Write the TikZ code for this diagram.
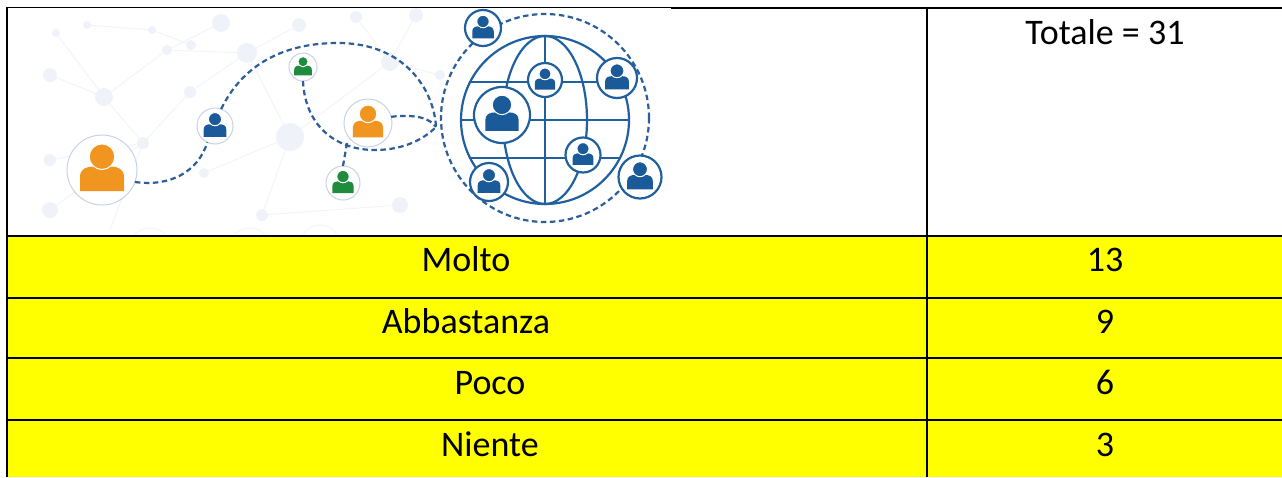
\documentclass[tikz,border=0pt]{standalone}
\usepackage{fontspec}
\setmainfont{Carlito}
\definecolor{porange}{HTML}{F0951F}
\definecolor{pblue}{HTML}{1B5A98}
\definecolor{pgreen}{HTML}{1F8B3C}
\definecolor{ringlight}{HTML}{C9D2E4}
\definecolor{dashblue}{HTML}{2C5E99}
\definecolor{globeblue}{HTML}{20609E}
\definecolor{faintfill}{HTML}{EFF3F9}
\definecolor{faintline}{HTML}{F1F4F9}
\definecolor{cellyellow}{HTML}{FFFF00}
\tikzset{
  personring/.style={circle, fill=white, inner sep=0pt, outer sep=0pt},
  ringL/.style={draw=ringlight, line width=1pt},
  ringG/.style={draw=globeblue, line width=2.2pt},
  conn/.style={draw=dashblue, line width=2.2pt, dash pattern=on 5.5pt off 3.5pt},
  globeline/.style={draw=globeblue, line width=2.2pt},
  tabline/.style={draw=black, line width=2pt},
  lbl/.style={font=\fontsize{36}{43}\selectfont, inner sep=0pt, anchor=base},
  faintl/.style={draw=faintline, line width=0.9pt},
  faintc/.style={fill=faintfill}
}
\newcommand{\persona}[7]{%
  \node[personring, #6, minimum size={2*#4pt}] (#1) at (#2,#3) {};%
  \begin{scope}[shift={(#2,#3)}, scale={#4/35*#7}]%
    \fill[#5] (-22,21) -- (-22,7) .. controls (-22,-1) and (-16,-3.5) .. (-8,-3.5) -- (8,-3.5) .. controls (16,-3.5) and (22,-1) .. (22,7) -- (22,21) -- cycle;%
    \filldraw[fill=#5, draw=white, line width=1pt] (0,-13.3) circle (12.8);%
  \end{scope}}
\begin{document}
\begin{tikzpicture}[x=1pt, y=-1pt]
\useasboundingbox (0,0) rectangle (1282,477);
\fill[white] (0,0) rectangle (1282,477);
% yellow rows
\fill[cellyellow] (6,236) rectangle (1282,477);
% faint background network
\begin{scope}
\clip (7,8) rectangle (671,235);
\draw[faintl] (50,75) -- (104,97) -- (143,143) -- (50,160);
\draw[faintl] (56,33) -- (104,97) -- (167,50) -- (221,23);
\draw[faintl] (167,50) -- (247,53) -- (299,25);
\draw[faintl] (247,53) -- (290,137) -- (204,173);
\draw[faintl] (290,137) -- (390,62) -- (416,15);
\draw[faintl] (356,17) -- (390,62);
\draw[faintl] (87,25) -- (152,30) -- (191,45);
\draw[faintl] (50,210) -- (143,143) -- (190,92) -- (247,53);
\draw[faintl] (290,137) -- (262,215);
\draw[faintl] (143,143) -- (110,230);
\draw[faintl] (390,62) -- (440,75);
\draw[faintl] (262,215) -- (400,205);
\foreach \cx/\cy/\cr in {50/75/7, 104/97/9, 56/33/4, 87/25/4, 152/30/4, 167/50/5, 191/45/5, 221/23/9, 247/53/10, 290/137/14, 299/25/7, 356/17/6, 416/15/7, 390/62/9, 143/143/6, 50/160/6, 50/210/8, 204/173/5, 190/92/6, 262/215/6, 400/205/8, 440/75/5}
  \fill[faintc] (\cx,\cy) circle (\cr);
\draw[faintl] (150,250) circle (22);
\draw[faintl] (250,250) circle (22);
\draw[faintl] (320,245) circle (20);
\end{scope}
% globe
\draw[globeline] (545,120) circle (84);
\draw[globeline] (545,120) ellipse (42 and 84);
\draw[globeline] (545,36) -- (545,204);
\draw[globeline] (470,82) -- (620,82);
\draw[globeline] (461,120) -- (629,120);
\draw[globeline] (470,158) -- (620,158);
% dashed orbit around globe
\draw[conn] (545,118) circle (104);
% persons
\persona{po1}{102}{170}{35}{porange}{ringL}{1}
\persona{pb1}{215}{126}{18}{pblue}{ringL}{1}
\persona{pg1}{303}{67}{14}{pgreen}{ringL}{1}
\persona{po2}{368}{123}{24}{porange}{ringL}{1}
\persona{pg2}{343}{183}{17}{pgreen}{ringL}{1}
\persona{gp1}{483}{28}{18}{pblue}{ringG}{0.95}
\persona{gp2}{545}{80}{17}{pblue}{ringG}{0.95}
\persona{gp3}{502}{115}{28}{pblue}{ringG}{0.95}
\persona{gp4}{617}{78}{20}{pblue}{ringG}{0.95}
\persona{gp5}{583}{155}{17.5}{pblue}{ringG}{0.95}
\persona{gp6}{489}{182}{19}{pblue}{ringG}{0.95}
\persona{gp7}{640}{177}{21.5}{pblue}{ringG}{0.95}
% connectors
\coordinate (conv) at (436,127);
\coordinate (archtop) at (338,43);
\coordinate (loopbot) at (375,150);
\coordinate (lj) at (347,143);
\draw[conn] (po1.-20) .. controls (170,187) and (198,172) .. (pb1.-115);
\draw[conn] (pb1.70) .. controls (245,60) and (290,43) .. (archtop) .. controls (405,43) and (434,90) .. (conv);
\draw[conn] (pg1.south) .. controls (305,125) and (335,150) .. (loopbot) .. controls (405,150) and (425,138) .. (conv);
\draw[conn] (po2.15) .. controls (415,114) and (430,118) .. (conv);
\draw[conn] (pg2.north) -- (lj);
% table lines
\draw[draw=black, line width=1pt] (6,7.3) -- (671,7.3);
\draw[tabline] (671,7.5) -- (1282,7.5);
\draw[tabline] (6.5,6.5) -- (6.5,477);
\draw[tabline] (927,6.5) -- (927,477);
\foreach \yy in {236, 297.5, 358, 420}
  \draw[tabline] (6,\yy) -- (1282,\yy);
% texts
\node[lbl] (tot) at (1105,44) {Totale = 31};
\node[lbl] (l1) at (466,271.5) {Molto};
\node[lbl] (l2) at (466,333) {Abbastanza};
\node[lbl] (l3) at (490,394.5) {Poco};
\node[lbl] (l4) at (490,456) {Niente};
\node[lbl] (v1) at (1105,271.5) {13};
\node[lbl] (v2) at (1105,333) {9};
\node[lbl] (v3) at (1105,394.5) {6};
\node[lbl] (v4) at (1105,456) {3};
\end{tikzpicture}
\end{document}
